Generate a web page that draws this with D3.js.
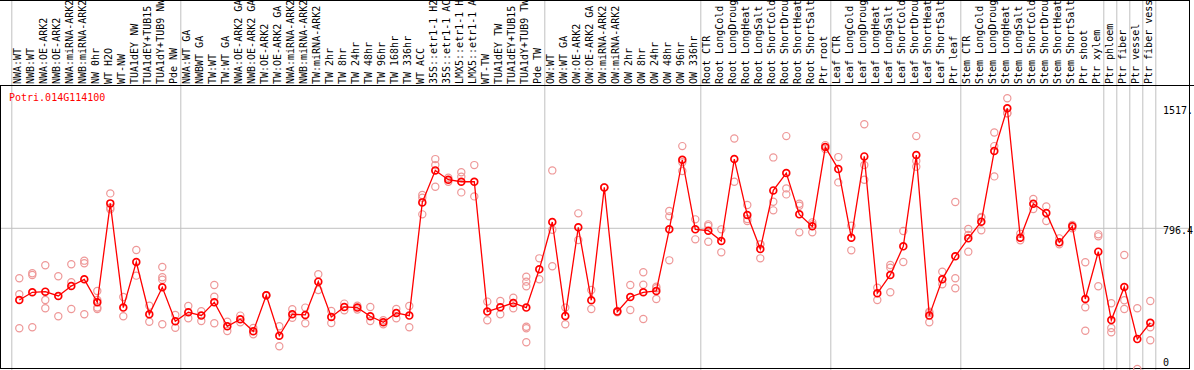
<!DOCTYPE html>
<html>
<head>
<meta charset="utf-8">
<script src="https://cdn.jsdelivr.net/npm/d3@7"></script>
<style>
  body { margin: 0; background: #fff; }
  text { font-family: "DejaVu Sans Mono", monospace; font-size: 10px; }
</style>
</head>
<body>
<div class="chart"></div>
<script>
const WIDTH = 1194
const HEIGHT = 370

// sample names (header), as far as they show in the header band
const samples = [
  "NWA:WT", "NWB:WT", "NWA:OE-ARK2", "NWB:OE-ARK2", "NWA:miRNA-ARK2", "NWB:miRNA-ARK2",
  "NW 0hr", "WT H2O", "WT-NW", "TUA1dEY NW", "TUA1dEY+TUB15", "TUA1dY+TUB9 NW", "Pde NW",
  "NWA:WT GA", "NWBWT GA", "TW:WT", "TW:WT GA", "NWA:OE-ARK2 GA", "NWB:OE-ARK2 GA",
  "TW:OE-ARK2", "TW:OE-ARK2 GA", "NWA:miRNA-ARK2", "NWB:miRNA-ARK2", "TW:miRNA-ARK2",
  "TW 2hr", "TW 8hr", "TW 24hr", "TW 48hr", "TW 96hr", "TW 168hr", "TW 336hr", "WT ACC",
  "35S::etr1-1 H2", "35S::etr1-1 AC", "LMX5::etr1-1 H", "LMX5::etr1-1 A",
  "WT-TW", "TUA1dEY TW", "TUA1dEY+TUB15", "TUA1dY+TUB9 TW", "Pde TW",
  "OW:WT", "OW:WT GA", "OW:OE-ARK2", "OW:OE-ARK2 GA", "OW:miRNA-ARK2", "OW:miRNA-ARK2",
  "OW 2hr", "OW 8hr", "OW 24hr", "OW 48hr", "OW 96hr", "OW 336hr",
  "Root CTR", "Root LongCold", "Root LongDroug", "Root LongHeat", "Root LongSalt",
  "Root ShortCold", "Root ShortDrou", "Root ShortHeat", "Root ShortSalt", "Ptr root",
  "Leaf CTR", "Leaf LongCold", "Leaf LongDroug", "Leaf LongHeat", "Leaf LongSalt",
  "Leaf ShortCold", "Leaf ShortDrou", "Leaf ShortHeat", "Leaf ShortSalt", "Ptr leaf",
  "Stem CTR", "Stem LongCold", "Stem LongDroug", "Stem LongHeat", "Stem LongSalt",
  "Stem ShortCold", "Stem ShortDrou", "Stem ShortHeat", "Stem ShortSalt",
  "Ptr shoot", "Ptr xylem", "Ptr phloem", "Ptr fiber", "Ptr vessel", "Ptr fiber vess"
];

// last sample index of each experiment block (separators)
const groupEnds = [-1, 12, 40, 52, 62, 72, 83, 84, 85, 86, 87];

// mean expression
const means = [
  366, 412, 416, 390, 450, 490, 352, 946, 320, 594, 280, 442, 238,
  292, 272, 352, 208, 250, 178, 394, 151, 280, 276, 476, 264, 324, 320, 268, 232, 288,
  272, 952, 1144, 1088, 1076, 1076, 296, 322, 348, 320, 550,
  834, 270, 802, 364, 1042, 296, 384, 412, 420, 790, 1208, 790,
  782, 720, 1212, 876, 672, 1024, 1128, 880, 808, 1284,
  1152, 740, 1228, 406, 516, 688, 1236, 272, 490, 628,
  736, 836, 1261, 1517, 740, 944, 888, 712, 808, 372, 656,
  245, 444, 131, 229
];

// replicate values
const reps = [
  [496, 400, 196], [526, 516, 202], [574, 366, 316], [508, 268], [580, 472, 312],
  [602, 586, 280], [420, 366, 320, 312], [1006, 920, 910], [384, 268], [666, 512],
  [331, 235], [564, 502, 488, 220], [276, 199],
  [330, 256], [298, 240], [456, 386, 226], [235, 180], [272, 232], [198, 160],
  [394, 394], [208, 88], [310, 259], [320, 226], [520, 426], [300, 228], [344, 304],
  [331, 309], [324, 240], [244, 220], [312, 256], [330, 202], [996, 980, 880],
  [1212, 1176, 1046], [1100, 1076], [1133, 1106, 1012], [1176, 988], [356, 244],
  [360, 280], [380, 348, 316], [506, 476, 448, 205, 196, 112], [616, 490],
  [1144, 788, 568], [320, 220], [886, 726], [426, 312], [1042, 1042], [300, 292],
  [456, 306], [532, 458, 252], [446, 436, 372], [900, 868, 604], [1290, 1193, 1140],
  [850, 730],
  [820, 810, 716], [790, 652], [1336, 1076], [936, 852, 840], [700, 700, 616],
  [1222, 956, 904], [1350, 1036, 1000], [944, 932, 772], [832, 820, 772], [1296, 1272],
  [1224, 1072], [812, 664], [1421, 1176, 1088], [440, 366], [576, 560, 412], [780, 594],
  [1350, 1200, 1166], [295, 288, 232], [536, 460], [954, 496, 436],
  [792, 756, 656], [864, 860, 784], [1372, 1290, 1108], [1577, 1487, 1487], [764, 724],
  [972, 912], [928, 840], [736, 700], [816, 796], [592, 322, 181], [760, 748, 448],
  [346, 198, 172], [636, 364, 312], [316, -49], [360, 202, 124]
];

const yTicks = [0, 796.4, 1517];
const yTickLabels = ["0", "796.4", "1517."];
const geneName = "Potri.014G114100";

const svg = d3.select("div.chart")
            .append("svg")
            .attr("width", WIDTH)
            .attr("height", HEIGHT);

const x = d3.scalePoint()
            .domain(d3.range(samples.length))
            .range([19.3, 19.3 + 13 * (samples.length - 1)]);

const y = d3.scaleLinear()
            .domain([0, 1517])
            .range([360.9, 108.3]);

// grid: horizontal line at the middle tick
svg.append("line")
   .attr("x1", 1).attr("x2", 1189)
   .attr("y1", y(796.4)).attr("y2", y(796.4))
   .style("stroke", "#c0c0c0");

// separators between experiment blocks
svg.selectAll("line.sep")
   .data(groupEnds)
   .enter()
   .append("line")
   .attr("class", "sep")
   .attr("x1", d => x(Math.max(d, 0)) + (d < 0 ? -8 : 5) + 0.5)
   .attr("x2", d => x(Math.max(d, 0)) + (d < 0 ? -8 : 5) + 0.5)
   .attr("y1", 0)
   .attr("y2", HEIGHT)
   .style("stroke", "#c0c0c0");

// header labels
svg.append("g")
   .selectAll("text")
   .data(samples)
   .enter()
   .append("text")
   .attr("transform", (d, i) => `translate(${x(i) + 1.5},84) rotate(-90)`)
   .style("fill", "#000")
   .text(d => d);

// frames
svg.append("line")
   .attr("x1", 0).attr("x2", WIDTH)
   .attr("y1", 85.5).attr("y2", 85.5)
   .style("stroke", "#000");
svg.append("line")
   .attr("x1", 0).attr("x2", 1190)
   .attr("y1", 0.5).attr("y2", 0.5)
   .style("stroke", "#000");
svg.append("line")
   .attr("x1", 1189.5).attr("x2", 1189.5)
   .attr("y1", 0).attr("y2", 86)
   .style("stroke", "#000");
svg.append("rect")
   .attr("x", 0.5).attr("y", 85.5)
   .attr("width", 1189).attr("height", 283)
   .style("fill", "none")
   .style("stroke", "#000");

// y labels on the right
const yAxis = d3.axisRight(y)
                .tickValues(yTicks)
                .tickSize(0)
                .tickFormat((d, i) => yTickLabels[i]);
const ax = svg.append("g")
   .attr("transform", "translate(1160,0)")
   .call(yAxis);
ax.select(".domain").remove();
ax.selectAll("text")
  .attr("x", 3)
  .attr("dy", "0.5em")
  .style("font-family", "DejaVu Sans Mono, monospace")
  .style("font-size", "10px")
  .style("fill", "#000");

// replicate circles
const repPts = [];
reps.forEach((r, i) => r.forEach(v => repPts.push({ i: i, v: v })));

svg.selectAll("circle.rep")
   .data(repPts)
   .enter()
   .append("circle")
   .attr("class", "rep")
   .attr("cx", d => x(d.i))
   .attr("cy", d => y(d.v))
   .attr("r", 3.6)
   .style("fill", "none")
   .style("stroke", "#ee9898")
   .style("stroke-width", 1.2);

// mean line
const line = d3.line()
               .x((d, i) => x(i))
               .y(d => y(d));

svg.append("path")
   .datum(means)
   .attr("d", line)
   .style("fill", "none")
   .style("stroke", "#ff0000")
   .style("stroke-width", 1.3);

svg.selectAll("circle.mean")
   .data(means)
   .enter()
   .append("circle")
   .attr("class", "mean")
   .attr("cx", (d, i) => x(i))
   .attr("cy", d => y(d))
   .attr("r", 3.4)
   .style("fill", "none")
   .style("stroke", "#ff0000")
   .style("stroke-width", 1.7);

// gene name
svg.append("text")
   .attr("x", 9)
   .attr("y", 101)
   .style("fill", "#ff0000")
   .text(geneName);
</script>
</body>
</html>
